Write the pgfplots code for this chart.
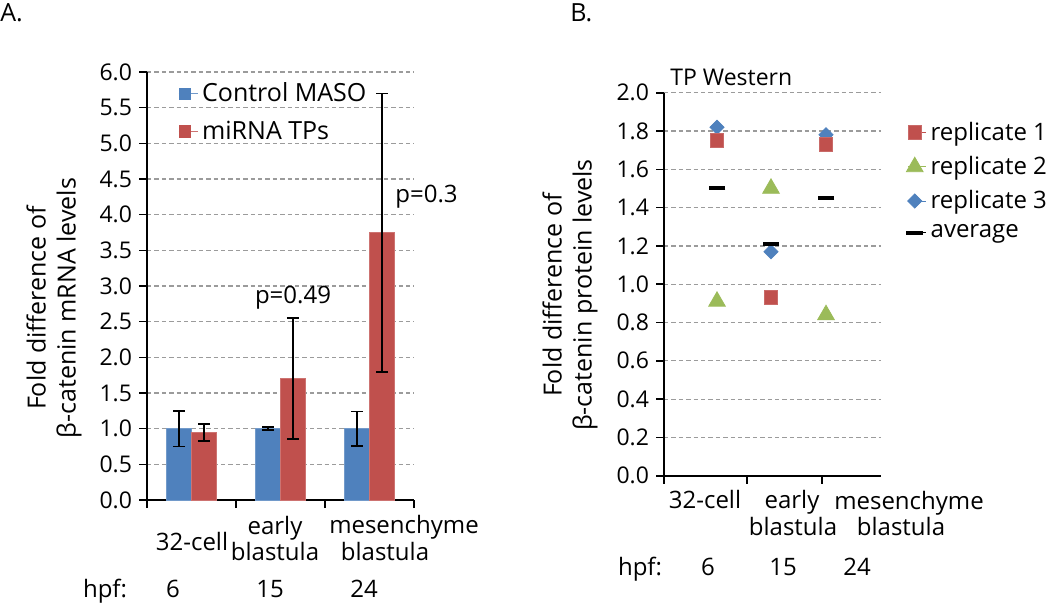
\documentclass[border=0pt]{standalone}
\usepackage{fontspec}
\setmainfont{Open Sans}
\usepackage{pgfplots}
\pgfplotsset{compat=1.18}
\definecolor{cblue}{RGB}{79,129,189}
\definecolor{cred}{RGB}{192,80,77}
\definecolor{cgreen}{RGB}{155,187,89}
\definecolor{gridgray}{RGB}{155,155,155}
\newcommand{\fs}[1]{\fontsize{#1}{#1}\selectfont}
\begin{document}
\begin{tikzpicture}
\useasboundingbox (0,0) rectangle (525pt,303pt);
\pgfplotsset{
  every tick label/.append style={font=\fs{11.5}},
  /pgf/number format/assume math mode=true,
  yticklabel style={/pgf/number format/.cd,fixed,fixed zerofill,precision=1},
  axis line style={line width=0.8pt,black,-},
  tick style={line width=0.8pt,black},
  tick align=outside, major tick length=4pt,
  ymajorgrids, grid style={gridgray,line width=0.6pt,dash pattern=on 2.2pt off 1.5pt},
}
% ---------------- Panel A ----------------
\begin{axis}[
  at={(73.5pt,53pt)}, anchor=south west,
  scale only axis, width=133.5pt, height=214pt,
  xmin=0, xmax=3, ymin=0, ymax=6,
  axis x line*=bottom, axis y line*=left,
  xtick={0,1,2,3}, xticklabels={},
  ytick={0,0.5,1,1.5,2,2.5,3,3.5,4,4.5,5,5.5,6},
  ybar=0pt, bar width=12.5pt,
  clip=false,
  legend style={at={(axis description cs:0.116,0.985)}, anchor=north west,
    draw=none, fill=none, font=\fs{12.5}, inner sep=0pt,
    row sep=4pt, cells={anchor=west}},
  legend image code/.code={\path (0pt,0pt) -- (9.5pt,0pt);
    \fill[#1,draw=none] (0pt,-3.1pt) rectangle (6.2pt,3.1pt);},
  error bars/error bar style={line width=0.9pt,black},
  error bars/error mark options={rotate=90,mark size=3pt,line width=0.9pt,black},
]
\addplot[fill=cblue, draw=cblue!80!white, line width=0.4pt,
  error bars/.cd, y dir=both, y explicit]
  coordinates {(0.5,1.00) +- (0,0.25) (1.5,1.00) +- (0,0.02) (2.5,1.00) +- (0,0.24)};
\addplot[fill=cred, draw=cred!80!white, line width=0.4pt,
  error bars/.cd, y dir=both, y explicit]
  coordinates {(0.5,0.95) +- (0,0.12) (1.5,1.70) +- (0,0.85) (2.5,3.75) +- (0,1.95)};
\legend{Control MASO, miRNA TPs}
\end{axis}
% ---------------- Panel B ----------------
\begin{axis}[
  at={(332pt,65.15pt)}, anchor=south west,
  scale only axis, width=108.5pt, height=191.5pt,
  xmin=664, xmax=881, ymin=0, ymax=2,
  axis x line*=bottom, axis y line*=left,
  xtick={664,747,822}, xticklabels={},
  ytick={0,0.2,0.4,0.6,0.8,1.0,1.2,1.4,1.6,1.8,2.0},
  clip=false,
  legend style={at={(axis description cs:1.115,0.935)}, anchor=north west,
    draw=none, fill=none, font=\fs{12}, inner sep=0pt,
    row sep=2.5pt, cells={anchor=west}},
  legend image code/.code={\path (0pt,0pt) -- (9.25pt,0pt);
    \draw[#1] plot coordinates {(3.5pt,0pt)};},
]
\addlegendimage{only marks, mark=square*, mark size=3.4pt, cred, mark options={draw=cred!85!white}}
\addlegendimage{only marks, mark=triangle*, mark size=4.8pt, cgreen}
\addlegendimage{only marks, mark=square*, mark size=2.5pt, cblue, mark options={rotate=45}}
\addlegendimage{only marks, mark=-, mark size=4.2pt, black, mark options={line width=2pt}}
\addplot[forget plot, only marks, mark=square*, mark size=2.5pt, cblue, mark options={rotate=45}]
  coordinates {(717,1.82) (771,1.17) (826,1.78)};
\addplot[forget plot, only marks, mark=square*, mark size=3.4pt, cred, mark options={draw=cred!85!white}]
  coordinates {(717,1.75) (771,0.93) (826,1.73)};
\addplot[forget plot, only marks, mark=triangle*, mark size=4.8pt, cgreen]
  coordinates {(717,0.91) (771,1.50) (826,0.84)};
\addplot[forget plot, only marks, mark=-, mark size=4.2pt, black, mark options={line width=2pt}]
  coordinates {(717,1.50) (771,1.21) (826,1.45)};
\legend{replicate 1, replicate 2, replicate 3, average}
\end{axis}
% ---------------- Text ----------------
\node[anchor=north west, inner sep=0pt, font=\fs{12.5}] at (0pt,301.5pt) {A.};
\node[anchor=north west, inner sep=0pt, font=\fs{12.5}] at (285pt,301.5pt) {B.};
\node[rotate=90, align=center, inner sep=0pt, font=\fontsize{12.5}{15}\selectfont] at (27pt,149pt)
  {Fold difference of\\β-catenin mRNA levels};
\node[rotate=90, align=center, inner sep=0pt, font=\fontsize{12.5}{15}\selectfont] at (285pt,155.5pt)
  {Fold difference of\\β-catenin protein levels};
\node[anchor=base, inner sep=0pt, font=\fs{12}] at (146.5pt,151pt) {p=0.49};
\node[anchor=base west, inner sep=0pt, font=\fs{12}] at (197.5pt,201.5pt) {p=0.3};
\node[anchor=base west, inner sep=0pt, font=\fs{11.5}] at (335pt,260pt) {TP Western};
% panel A categories
\begin{scope}[every node/.style={anchor=base, inner sep=0pt, font=\fs{12}}]
\node at (96pt,28pt) {32-cell};
\node at (137.5pt,36pt) {early};
\node at (137.5pt,23pt) {blastula};
\node at (202pt,36.5pt) {mesenchyme};
\node at (192.5pt,23pt) {blastula};
\node at (52.5pt,4.5pt) {hpf:};
\node at (86.5pt,4.5pt) {6};
\node at (135pt,4.5pt) {15};
\node at (182pt,4.5pt) {24};
% panel B categories
\node at (352.5pt,49pt) {32-cell};
\node at (396pt,49pt) {early};
\node at (396.5pt,35.5pt) {blastula};
\node at (454.5pt,48.5pt) {mesenchyme};
\node at (450.5pt,35.5pt) {blastula};
\node at (320pt,15.5pt) {hpf:};
\node at (354pt,15.5pt) {6};
\node at (391.5pt,15.5pt) {15};
\node at (428.5pt,15.5pt) {24};
\end{scope}
\end{tikzpicture}
\end{document}
